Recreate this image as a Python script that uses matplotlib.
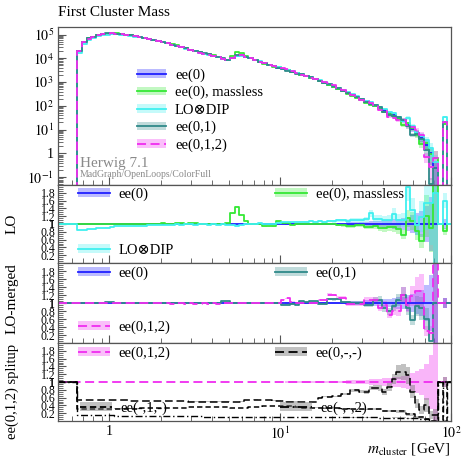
import numpy as np
import matplotlib
matplotlib.use("Agg")
import matplotlib.pyplot as plt
from matplotlib.lines import Line2D
from matplotlib.patches import Patch
from matplotlib.ticker import FixedLocator, LogLocator, MultipleLocator, NullFormatter, FuncFormatter

plt.rcParams["font.family"] = ["Liberation Serif", "DejaVu Serif"]
plt.rcParams["mathtext.fontset"] = "stix"

W, H = 467, 461

# binning: 80 log bins between 0.65 and 95 GeV, empty bins 0.5-0.65 and 95-100 on the sides
m_lo, m_hi, n_bins = 0.65, 95.0, 80
edges = np.concatenate([[0.5], np.logspace(np.log10(m_lo), np.log10(m_hi), n_bins + 1), [100.0]])

# ee(0) cross section per bin (main panel)
ee0_vals = [
    2.0e4, 4.8e4, 6.8e4, 8.2e4, 9.5e4, 1.03e5, 1.09e5, 1.12e5, 1.10e5, 1.05e5,
    9.8e4, 9.2e4, 8.5e4, 7.9e4, 7.1e4, 6.5e4, 5.9e4, 5.3e4, 4.8e4, 4.3e4,
    3.8e4, 3.45e4, 3.0e4, 2.6e4, 2.23e4, 1.99e4, 1.77e4, 1.59e4, 1.45e4, 1.31e4,
    1.13e4, 9.8e3, 8.5e3, 1.03e4, 1.31e4, 1.34e4, 1.18e4, 1.0e4, 8.5e3, 7.2e3,
    6.2e3, 5.4e3, 4.66e3, 4.07e3, 3.55e3, 3.1e3, 2.71e3, 2.37e3, 2.05e3, 1.77e3,
    1.53e3, 1.31e3, 1.11e3, 935, 770, 635, 523, 431, 348, 282,
    228, 186, 149, 120, 99, 80, 64, 50, 39.5, 31,
    22, 15.8, 10.7, 7.3, 4.5, 2.3, 1.05, 0.25, 0, 21,
]

# relative stat. uncertainty per bin
err_vals = [
    0.004, 0.003, 0.003, 0.003, 0.003, 0.003, 0.003, 0.003, 0.003, 0.003,
    0.003, 0.003, 0.003, 0.003, 0.003, 0.004, 0.004, 0.004, 0.004, 0.004,
    0.004, 0.005, 0.005, 0.005, 0.005, 0.006, 0.006, 0.006, 0.007, 0.007,
    0.007, 0.008, 0.008, 0.007, 0.007, 0.007, 0.008, 0.008, 0.009, 0.009,
    0.01, 0.01, 0.011, 0.011, 0.012, 0.013, 0.013, 0.014, 0.015, 0.016,
    0.017, 0.019, 0.021, 0.024, 0.027, 0.03, 0.033, 0.037, 0.041, 0.046,
    0.05, 0.056, 0.063, 0.07, 0.078, 0.087, 0.098, 0.11, 0.125, 0.14,
    0.16, 0.19, 0.22, 0.27, 0.33, 0.45, 0.7, 1.0, 0.0, 0.12,
]

# ratios to ee(0)
r_massless = [
    1.0, 1.01, 1.01, 1.0, 1.01, 1.01, 1.0, 1.01, 1.01, 1.01,
    1.01, 1.0, 1.01, 1.01, 1.0, 1.0, 1.01, 1.01, 1.02, 1.01,
    1.01, 1.02, 1.02, 1.01, 1.02, 1.02, 1.01, 1.0, 1.01, 1.01,
    1.01, 1.0, 1.02, 1.27, 1.44, 1.23, 1.08, 1.0, 1.01, 1.0,
    0.94, 0.95, 0.94, 1.07, 1.03, 1.02, 0.98, 0.99, 1.0, 0.99,
    1.0, 1.01, 0.99, 1.0, 0.99, 1.0, 0.98, 0.97, 0.94, 0.95,
    0.98, 0.97, 0.92, 0.93, 0.95, 0.9, 0.89, 0.92, 0.92, 0.87,
    0.73, 1.15, 1.07, 0.81, 0.56, 1.2, 0.9, 2.5, 1.0, 0.81,
]
r_dip = [
    0.85, 0.85, 0.87, 0.88, 0.89, 0.9, 0.91, 0.93, 0.94, 0.94,
    0.95, 0.95, 0.96, 0.96, 0.96, 0.97, 0.97, 0.97, 0.98, 0.98,
    0.98, 0.99, 0.98, 0.99, 0.99, 0.98, 0.99, 0.99, 0.98, 0.99,
    0.98, 0.99, 0.98, 0.97, 0.96, 0.97, 0.99, 1.0, 1.01, 1.02,
    1.0, 1.01, 1.0, 1.02, 1.04, 1.05, 1.05, 1.04, 1.06, 1.05,
    1.07, 1.06, 1.07, 1.06, 1.08, 1.07, 1.09, 1.1, 1.08, 1.11,
    1.1, 1.09, 1.12, 1.27, 1.14, 1.14, 1.1, 1.1, 1.25, 1.1,
    1.1, 1.95, 1.36, 0.97, 1.19, 1.53, 1.55, 1.8, 1.0, 1.6,
]
r_01 = [
    1.0, 1.0, 1.01, 1.0, 1.0, 1.01, 1.03, 1.03, 1.0, 1.0,
    1.0, 0.99, 1.0, 1.01, 1.0, 1.0, 0.99, 1.0, 1.01, 1.0,
    1.0, 1.0, 0.99, 1.0, 1.01, 1.0, 1.0, 1.01, 1.0, 0.99,
    1.0, 1.04, 1.04, 1.0, 1.01, 1.0, 0.99, 1.0, 1.01, 1.0,
    1.0, 1.01, 1.0, 0.99, 0.96, 0.96, 0.97, 0.96, 1.04, 1.03,
    1.04, 1.04, 0.97, 0.97, 1.1, 1.09, 1.1, 1.02, 1.02, 1.0,
    1.0, 1.0, 0.96, 0.96, 1.07, 1.07, 0.87, 0.79, 0.92, 1.08,
    1.21, 0.87, 0.58, 0.92, 0.87, 0.6, 0.05, 1.0, 1.0, 1.0,
]
r_012 = [
    1.0, 1.0, 0.99, 1.0, 1.0, 0.99, 1.0, 1.0, 0.99, 1.0,
    0.99, 1.0, 1.0, 0.99, 1.0, 0.99, 1.0, 0.99, 0.99, 1.0,
    0.98, 0.99, 0.99, 0.98, 0.99, 0.98, 0.98, 0.99, 0.98, 0.99,
    0.98, 0.99, 1.0, 1.0, 1.01, 1.0, 0.99, 1.0, 1.0, 1.01,
    1.0, 0.99, 1.0, 1.0, 1.08, 1.12, 1.03, 1.0, 1.0, 0.99,
    1.0, 1.0, 1.08, 1.08, 1.21, 1.2, 1.13, 1.13, 0.97, 0.97,
    0.98, 0.97, 1.08, 1.08, 1.07, 0.87, 0.96, 0.7, 0.79, 0.79,
    1.21, 0.96, 1.17, 1.3, 1.3, 0.3, 0.25, 2.5, 1.0, 1.0,
]

# splitup fractions of ee(0,1,2)
f_0 = [
    0.54, 0.54, 0.54, 0.53, 0.53, 0.53, 0.53, 0.53, 0.53, 0.53,
    0.53, 0.52, 0.52, 0.52, 0.52, 0.52, 0.52, 0.52, 0.52, 0.51,
    0.51, 0.51, 0.51, 0.51, 0.5, 0.5, 0.5, 0.5, 0.5, 0.5,
    0.5, 0.5, 0.5, 0.49, 0.49, 0.5, 0.54, 0.54, 0.55, 0.54,
    0.54, 0.54, 0.52, 0.52, 0.51, 0.5, 0.5, 0.5, 0.49, 0.49,
    0.49, 0.49, 0.6, 0.62, 0.62, 0.63, 0.63, 0.7, 0.7, 0.79,
    0.79, 0.75, 0.75, 0.85, 0.85, 0.85, 0.75, 0.87, 1.08, 1.25,
    1.25, 1.17, 0.75, 0.45, 0.28, 0.41, 0.15, 0.15, 1.0, 1.0,
]
f_1 = [
    0.3, 0.3, 0.3, 0.31, 0.31, 0.31, 0.31, 0.31, 0.32, 0.32,
    0.32, 0.32, 0.32, 0.33, 0.33, 0.33, 0.33, 0.33, 0.33, 0.34,
    0.34, 0.34, 0.34, 0.34, 0.35, 0.35, 0.35, 0.35, 0.35, 0.35,
    0.35, 0.36, 0.36, 0.33, 0.33, 0.33, 0.34, 0.35, 0.35, 0.36,
    0.38, 0.38, 0.38, 0.38, 0.38, 0.38, 0.38, 0.35, 0.34, 0.34,
    0.34, 0.34, 0.34, 0.34, 0.34, 0.34, 0.34, 0.3, 0.3, 0.3,
    0.3, 0.3, 0.3, 0.3, 0.3, 0.3, 0.25, 0.25, 0.25, 0.25,
    0.25, 0.17, 0.17, 0.1, 0.1, 0.05, 0.0, 0.0, 1.0, 0.0,
]
f_2 = [
    0.16, 0.16, 0.15, 0.15, 0.15, 0.15, 0.15, 0.15, 0.14, 0.14,
    0.14, 0.14, 0.14, 0.14, 0.13, 0.13, 0.13, 0.13, 0.13, 0.13,
    0.12, 0.12, 0.12, 0.12, 0.12, 0.12, 0.12, 0.11, 0.11, 0.11,
    0.11, 0.11, 0.11, 0.1, 0.1, 0.1, 0.1, 0.11, 0.11, 0.11,
    0.11, 0.11, 0.11, 0.11, 0.1, 0.1, 0.1, 0.1, 0.1, 0.1,
    0.1, 0.1, 0.1, 0.1, 0.1, 0.1, 0.1, 0.09, 0.09, 0.09,
    0.09, 0.09, 0.09, 0.09, 0.09, 0.08, 0.08, 0.08, 0.08, 0.08,
    0.08, 0.07, 0.07, 0.07, 0.06, 0.05, 0.0, 0.0, 1.0, 0.0,
]

for name, v in [("ee0", ee0_vals), ("err", err_vals), ("massless", r_massless), ("dip", r_dip),
                ("r01", r_01), ("r012", r_012), ("f0", f_0), ("f1", f_1), ("f2", f_2)]:
    assert len(v) == n_bins, (name, len(v))


def pad(v, val):
    return np.concatenate([[val], np.asarray(v, float), [val]])


ee0 = pad(ee0_vals, 0.0)
err = pad(err_vals, 0.0)
ratios = {
    "massless": pad(r_massless, 1.0),
    "dip": pad(r_dip, 1.0),
    "01": pad(r_01, 1.0),
    "012": pad(r_012, 1.0),
}
ones = np.where(ee0 > 0, 1.0, 1.0)

C_EE0 = "#1f1fff"
C_ML = "#35e835"
C_DIP = "#3ff0f0"
C_01 = "#2f8a8a"
C_012 = "#f02cf0"
DASH = (0, (5, 2.5))

xs = np.repeat(edges, 2)[1:-1]


def rep(v):
    return np.repeat(v, 2)


def hist(ax, vals, rel, color, ls="-", band_color=None, alpha=0.3, lw=1.3, z=2):
    vals = np.asarray(vals, float)
    ax.fill_between(xs, rep(vals * (1 - rel)), rep(vals * (1 + rel)),
                    color=band_color or color, alpha=alpha, lw=0, zorder=z)
    ax.plot(xs, rep(vals), color=color, ls=ls, lw=lw, zorder=z + 0.5)


fig = plt.figure(figsize=(W / 100, H / 100), dpi=100)
left, width = 58 / W, (451 - 58) / W


def box(top, bottom):
    return [left, 1 - bottom / H, width, (bottom - top) / H]


ax_main = fig.add_axes(box(27, 185))
ax_lo = fig.add_axes(box(185, 263))
ax_mg = fig.add_axes(box(263, 343))
ax_sp = fig.add_axes(box(343, 421))
axes = [ax_main, ax_lo, ax_mg, ax_sp]

# main panel
hist(ax_main, ee0, err, C_EE0)
hist(ax_main, ee0 * ratios["massless"], err, C_ML)
hist(ax_main, ee0 * ratios["dip"], err, C_DIP)
hist(ax_main, ee0 * ratios["01"], err, C_01)
hist(ax_main, ee0 * ratios["012"], err, C_012, ls=DASH)
ax_main.set_yscale("log")
ax_main.set_ylim(0.047, 2.07e5)

# LO panel
hist(ax_lo, ones, err, C_EE0)
hist(ax_lo, ratios["massless"], err, C_ML)
hist(ax_lo, ratios["dip"], err, C_DIP)

# LO-merged panel
hist(ax_mg, ones, err, C_EE0)
hist(ax_mg, ratios["01"], err, C_01)
hist(ax_mg, ratios["012"], err, C_012, ls=DASH)

# splitup panel
hist(ax_sp, ones, err, C_012, ls=DASH, alpha=0.35)
hist(ax_sp, pad(f_0, 1.0), err, "black", ls=(0, (5, 2.5)), band_color="#777777", alpha=0.45, lw=1.1)
hist(ax_sp, pad(f_1, 1.0), err, "black", ls=(0, (3.5, 2)), band_color="#777777", alpha=0.45, lw=1.1)
hist(ax_sp, pad(f_2, 1.0), err, "black", ls=(0, (5, 2, 1, 2)), band_color="#777777", alpha=0.45, lw=1.0)

ratio_ticks = np.arange(0.2, 1.81, 0.2)
for ax in axes:
    ax.set_xscale("log")
    ax.set_xlim(0.5, 100)
    ax.xaxis.set_major_locator(FixedLocator([1, 10, 100]))
    ax.xaxis.set_minor_locator(LogLocator(base=10, subs=np.arange(2, 10)))
    ax.xaxis.set_minor_formatter(NullFormatter())
    ax.tick_params(which="both", direction="in", top=False, right=False,
                   color="#555555", labelsize=10, pad=3)
    ax.tick_params(which="major", length=6, width=0.8)
    ax.tick_params(which="minor", length=3.5, width=0.6)
    for sp in ax.spines.values():
        sp.set_color("#555555")
        sp.set_linewidth(0.9)
    if ax is not ax_sp:
        ax.tick_params(axis="x", labelbottom=False)
    if ax is not ax_main:
        ax.set_ylim(0.0, 2.0)
        ax.yaxis.set_major_locator(FixedLocator(list(ratio_ticks) + [1.0]))
        ax.yaxis.set_minor_locator(MultipleLocator(0.05))
        ax.yaxis.set_major_formatter(FuncFormatter(lambda v, p: "1" if abs(v - 1) < 1e-6 else f"{v:.1f}"))
        ax.tick_params(axis="y", labelsize=8.5, pad=2)

ax_main.yaxis.set_major_locator(LogLocator(base=10, numticks=12))
ax_main.yaxis.set_minor_locator(LogLocator(base=10, subs=np.arange(2, 10), numticks=12))
ax_main.yaxis.set_minor_formatter(NullFormatter())
ax_main.yaxis.set_major_formatter(FuncFormatter(
    lambda v, p: "1" if abs(np.log10(v)) < 1e-6 else f"$10^{{{int(round(np.log10(v)))}}}$"))
ax_sp.xaxis.set_major_formatter(FuncFormatter(
    lambda v, p: "1" if abs(np.log10(v)) < 1e-6 else f"$10^{{{int(round(np.log10(v)))}}}$"))


def handle(color, ls="-", band=None, alpha=0.3):
    return (Patch(facecolor=band or color, alpha=alpha, edgecolor="none"),
            Line2D([], [], color=color, ls=ls, lw=1.3))


def key(h, label, x, y, hl=2.2):
    # one legend entry per call, placed in figure pixels
    fig.legend([h], [label], loc="center left", bbox_to_anchor=(x / W, 1 - y / H),
               bbox_transform=fig.transFigure, frameon=False, fontsize=10.5,
               handlelength=hl, handleheight=0.55, handletextpad=0.6,
               borderpad=0, borderaxespad=0)


# main legend
main_keys = [
    (handle(C_EE0), "ee(0)"),
    (handle(C_ML), "ee(0), massless"),
    (handle(C_DIP), "LO⊗DIP"),
    (handle(C_01), "ee(0,1)"),
    (handle(C_012, DASH), "ee(0,1,2)"),
]
for i, (h, lab) in enumerate(main_keys):
    key(h, lab, 137, 75 + 17.5 * i, hl=2.0)

key(handle(C_EE0), "ee(0)", 78, 194)
key(handle(C_ML), "ee(0), massless", 275, 194)
key(handle(C_DIP), "LO⊗DIP", 78, 250)
key(handle(C_EE0), "ee(0)", 78, 273)
key(handle(C_01), "ee(0,1)", 275, 273)
key(handle(C_012, DASH), "ee(0,1,2)", 78, 327)
key(handle(C_012, DASH), "ee(0,1,2)", 78, 353)
key(handle("black", (0, (5, 2.5)), "#777777", 0.45), "ee(0,-,-)", 275, 353)
key(handle("black", (0, (3.5, 2)), "#777777", 0.45), "ee(-,1,-)", 80, 408)
key(handle("black", (0, (5, 2, 1, 2)), "#777777", 0.45), "ee(-,-,2)", 280, 408)

fig.text(58 / W, 1 - 12 / H, "First Cluster Mass", fontsize=11, ha="left", va="center")
fig.text(80 / W, 1 - 164 / H, "Herwig 7.1", fontsize=11, color="#8a8a8a", ha="left", va="center")
fig.text(80 / W, 1 - 174.5 / H, "MadGraph/OpenLoops/ColorFull", fontsize=7, color="#8a8a8a",
         ha="left", va="center")

fig.text(12 / W, 1 - 224 / H, "LO", rotation=90, fontsize=11, ha="center", va="center")
fig.text(12 / W, 1 - 299 / H, "LO-merged", rotation=90, fontsize=11, ha="center", va="center")
fig.text(12 / W, 1 - 391 / H, "ee(0,1,2) splitup", rotation=90, fontsize=10.5, ha="center", va="center")
fig.text(451 / W, 1 - 449 / H, r"$m_{\mathrm{cluster}}$ [GeV]", fontsize=11, ha="right", va="center")

fig.savefig("out.png", dpi=100)
